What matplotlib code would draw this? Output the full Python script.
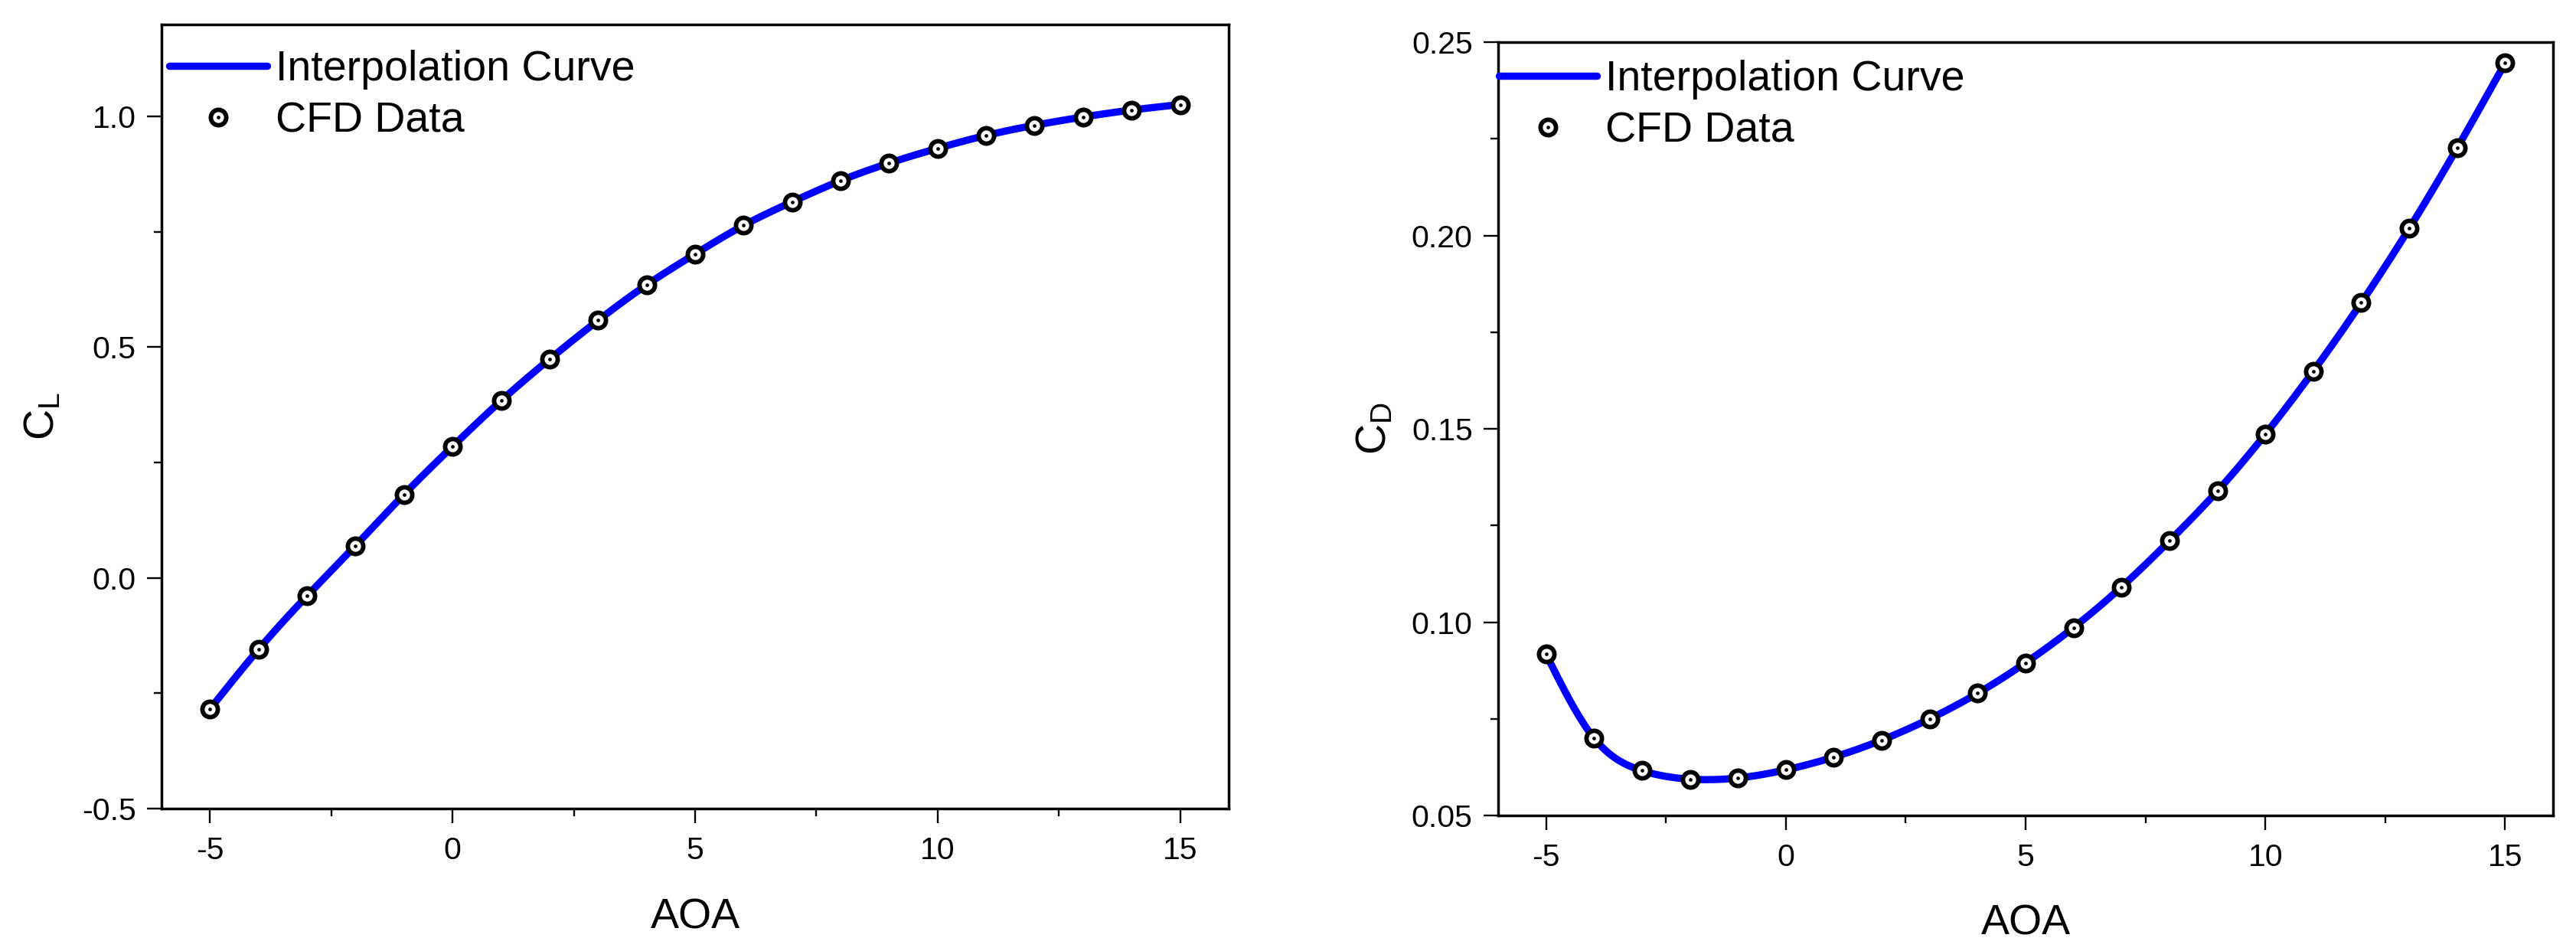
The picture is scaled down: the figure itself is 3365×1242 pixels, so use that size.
import numpy as np
import matplotlib
matplotlib.use("Agg")
import matplotlib.pyplot as plt
from matplotlib.ticker import MultipleLocator, FormatStrFormatter
from matplotlib.lines import Line2D

plt.rcParams['font.family'] = ['Liberation Sans', 'DejaVu Sans']
plt.rcParams['mathtext.default'] = 'regular'
plt.rcParams['axes.unicode_minus'] = False

# angle of attack (deg)
aoa = [-5, -4, -3, -2, -1, 0, 1, 2, 3, 4, 5, 6, 7, 8, 9, 10, 11, 12, 13, 14, 15]

# lift coefficient from CFD
cl = [-0.284, -0.155, -0.039, 0.070, 0.181, 0.285, 0.384, 0.474, 0.558, 0.635,
      0.702, 0.764, 0.815, 0.861, 0.899, 0.931, 0.959, 0.981, 0.999, 1.014, 1.026]

# drag coefficient from CFD
cd = [0.0917, 0.0700, 0.0616, 0.0594, 0.0597, 0.0618, 0.0651, 0.0695, 0.0750, 0.0816,
      0.0895, 0.0986, 0.1091, 0.1210, 0.1339, 0.1486, 0.1649, 0.1826, 0.2018, 0.2226, 0.2446]


def natural_spline(x, y, n=400):
    # plain natural cubic spline, no scipy needed
    x = np.asarray(x, float)
    y = np.asarray(y, float)
    m = len(x)
    h = np.diff(x)
    A = np.zeros((m, m))
    b = np.zeros(m)
    A[0, 0] = A[-1, -1] = 1.0
    for i in range(1, m - 1):
        A[i, i - 1] = h[i - 1]
        A[i, i] = 2 * (h[i - 1] + h[i])
        A[i, i + 1] = h[i]
        b[i] = 3 * ((y[i + 1] - y[i]) / h[i] - (y[i] - y[i - 1]) / h[i - 1])
    c = np.linalg.solve(A, b)
    xs = np.linspace(x[0], x[-1], n)
    k = np.clip(np.searchsorted(x, xs) - 1, 0, m - 2)
    dx = xs - x[k]
    bb = (y[k + 1] - y[k]) / h[k] - h[k] * (2 * c[k] + c[k + 1]) / 3
    dd = (c[k + 1] - c[k]) / (3 * h[k])
    ys = y[k] + bb * dx + c[k] * dx ** 2 + dd * dx ** 3
    return xs, ys


fig = plt.figure(figsize=(33.66, 12.42), dpi=100)
ax1 = fig.add_axes([0.0627, 0.1498, 0.4141, 0.8247])
ax2 = fig.add_axes([0.5814, 0.1425, 0.4094, 0.8132])

line_kw = dict(color='#0000FF', lw=6.8, solid_capstyle='round')
ring_kw = dict(ls='none', marker='o', ms=14.5, mfc='white', mec='black', mew=4.2)
dot_kw = dict(ls='none', marker='o', ms=3.4, mfc='black', mec='black', mew=0)

panels = [
    (ax1, cl, (-0.5, 1.2), 0.5, 0.25, '%.1f', r'C$_{L}$', -0.0925, (0.007, 0.967)),
    (ax2, cd, (0.05, 0.25), 0.05, 0.025, '%.2f', r'C$_{D}$', -0.098, (0.001, 0.977)),
]

for ax, vals, ylim, ymaj, ymin, fmt, ylab, ylx, leg_xy in panels:
    xs, ys = natural_spline(aoa, vals)
    ax.plot(xs, ys, **line_kw, zorder=2)
    ax.plot(aoa, vals, **ring_kw, zorder=3)
    ax.plot(aoa, vals, **dot_kw, zorder=4)

    ax.set_xlim(-6, 16)
    ax.set_ylim(*ylim)
    ax.xaxis.set_major_locator(MultipleLocator(5))
    ax.xaxis.set_minor_locator(MultipleLocator(2.5))
    ax.yaxis.set_major_locator(MultipleLocator(ymaj))
    ax.yaxis.set_minor_locator(MultipleLocator(ymin))
    ax.yaxis.set_major_formatter(FormatStrFormatter(fmt))

    for sp in ax.spines.values():
        sp.set_linewidth(2.5)
    ax.tick_params(which='both', direction='out', width=1.7, top=False, right=False)
    ax.tick_params(which='major', length=14, labelsize=29.5)
    ax.tick_params(axis='x', which='major', pad=12)
    ax.tick_params(axis='y', which='major', pad=10)
    ax.tick_params(which='minor', length=7)

    ax.set_xlabel('AOA', fontsize=40)
    ax.xaxis.set_label_coords(0.5, -0.114)
    ax.set_ylabel(ylab, fontsize=40)
    ax.yaxis.set_label_coords(ylx, 0.5)

    h_line = Line2D([], [], **line_kw)
    h_ring = Line2D([], [], **ring_kw)
    h_dot = Line2D([], [], **dot_kw)
    ax.legend([h_line, (h_ring, h_dot)], ['Interpolation Curve', 'CFD Data'],
              loc='upper left', bbox_to_anchor=leg_xy, frameon=False, fontsize=40,
              handlelength=2.3, handletextpad=0.2, labelspacing=0.27,
              borderpad=0, borderaxespad=0)

fig.savefig('out.png', dpi=100)
